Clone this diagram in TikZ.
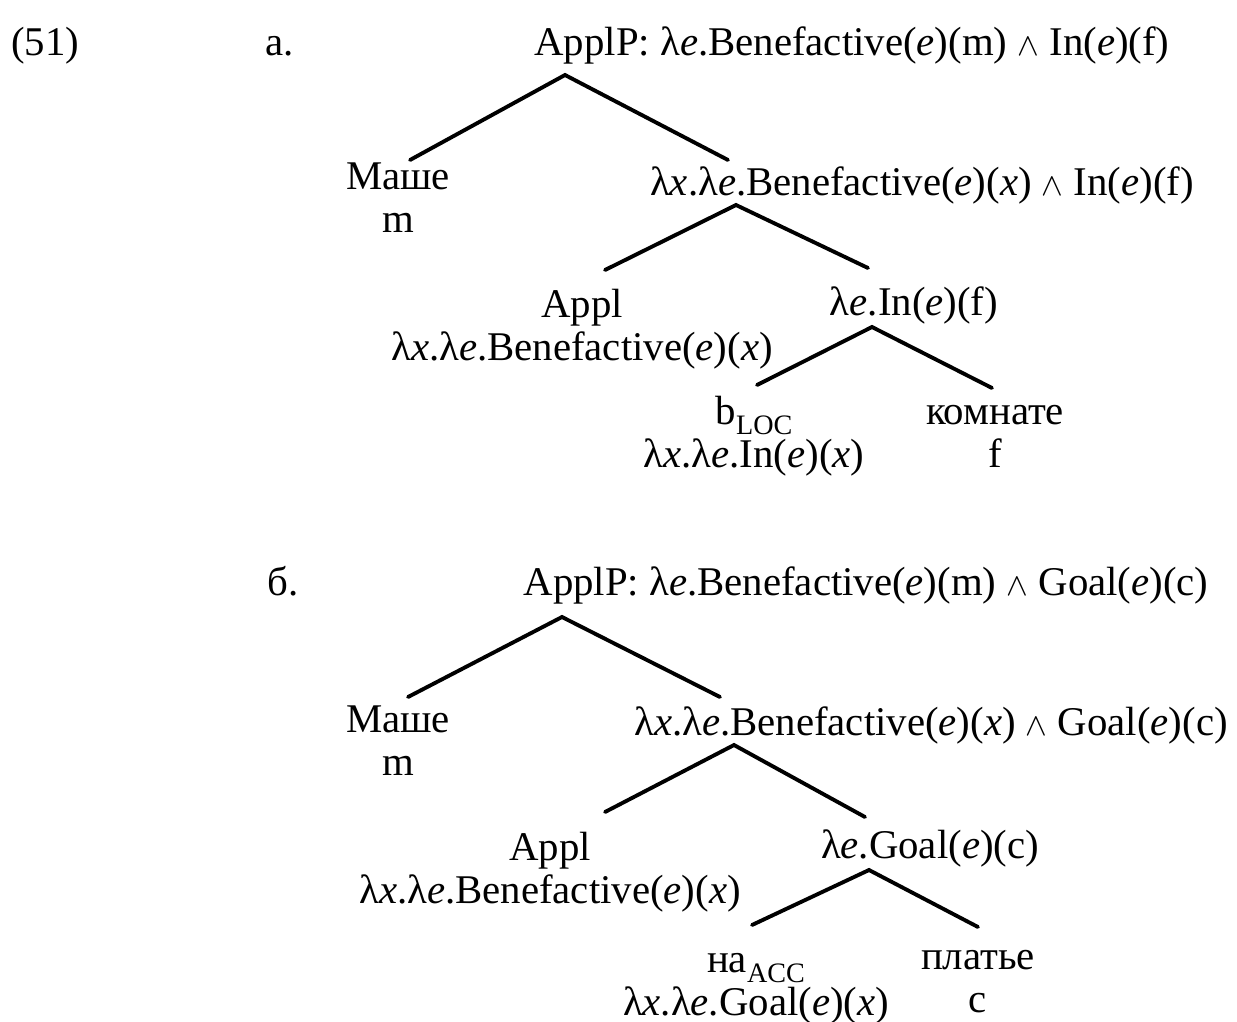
\documentclass[tikz,border=0pt]{standalone}
\usepackage{fontspec}
\setmainfont{Liberation Serif}
\usepackage{tikz}
\usetikzlibrary{positioning}
\newcommand{\ev}{\textit{e}}
\newcommand{\xv}{\textit{x}}
\newcommand{\cnj}{{\small$\wedge$}}
\newcommand{\subsc}[1]{\raisebox{-0.5ex}{\footnotesize #1}}
\tikzset{
  lbl/.style={inner sep=0pt,anchor=base,align=center,
              font=\fontsize{11.6}{12}\selectfont},
  leg/.style={line width=1.1pt,line cap=round}
}
\begin{document}
\begin{tikzpicture}[x=0.01cm,y=-0.01cm]
  \useasboundingbox (0,0) rectangle (1237,1021);
  % (51a)
  \node[lbl] (ex) at (45,55) {(51)};
  \node[lbl] (itA) at (280,55) {a.};
  \node[lbl] (rootA) at (852,55) {ApplP: λ\ev.Benefactive(\ev)(m) \cnj{} In(\ev)(f)};
  \node[lbl] (mashaA) at (398,232) {Маше\\m};
  \node[lbl] (benA) at (922,195) {λ\xv.λ\ev.Benefactive(\ev)(\xv) \cnj{} In(\ev)(f)};
  \node[lbl] (applA) at (582,360) {Appl\\λ\xv.λ\ev.Benefactive(\ev)(\xv)};
  \node[lbl] (inA) at (914,315) {λ\ev.In(\ev)(f)};
  \node[lbl] (blocA) at (754,467) {b\subsc{LOC}\\λ\xv.λ\ev.In(\ev)(\xv)};
  \node[lbl] (komA) at (995,467) {комнате\\f};
  \coordinate (rootAt) at (565,75);
  \coordinate (mashaAt) at (410,160);
  \coordinate (benAt) at (728,160);
  \coordinate (benAb) at (736,205);
  \coordinate (applAt) at (605,270);
  \coordinate (inAt) at (868,268);
  \coordinate (inAb) at (872,327);
  \coordinate (blocAt) at (757,385);
  \coordinate (komAt) at (992,388);
  \draw[leg] (mashaAt) -- (rootAt) -- (benAt);
  \draw[leg] (applAt) -- (benAb) -- (inAt);
  \draw[leg] (blocAt) -- (inAb) -- (komAt);
  % (51b)
  \node[lbl] (itB) at (283,595) {б.};
  \node[lbl] (rootB) at (866,595) {ApplP: λ\ev.Benefactive(\ev)(m) \cnj{} Goal(\ev)(c)};
  \node[lbl] (mashaB) at (398,775) {Маше\\m};
  \node[lbl] (benB) at (931,735) {λ\xv.λ\ev.Benefactive(\ev)(\xv) \cnj{} Goal(\ev)(c)};
  \node[lbl] (applB) at (550,903) {Appl\\λ\xv.λ\ev.Benefactive(\ev)(\xv)};
  \node[lbl] (goalB) at (930,858) {λ\ev.Goal(\ev)(c)};
  \node[lbl] (naB) at (756,1015) {на\subsc{ACC}\\λ\xv.λ\ev.Goal(\ev)(\xv)};
  \node[lbl] (platB) at (978,1012) {платье\\c};
  \coordinate (rootBt) at (562,617);
  \coordinate (mashaBt) at (408,697);
  \coordinate (benBt) at (720,697);
  \coordinate (benBb) at (734,745);
  \coordinate (applBt) at (605,812);
  \coordinate (goalBt) at (865,817);
  \coordinate (goalBb) at (869,870);
  \coordinate (naBt) at (752,925);
  \coordinate (platBt) at (978,927);
  \draw[leg] (mashaBt) -- (rootBt) -- (benBt);
  \draw[leg] (applBt) -- (benBb) -- (goalBt);
  \draw[leg] (naBt) -- (goalBb) -- (platBt);
\end{tikzpicture}
\end{document}
